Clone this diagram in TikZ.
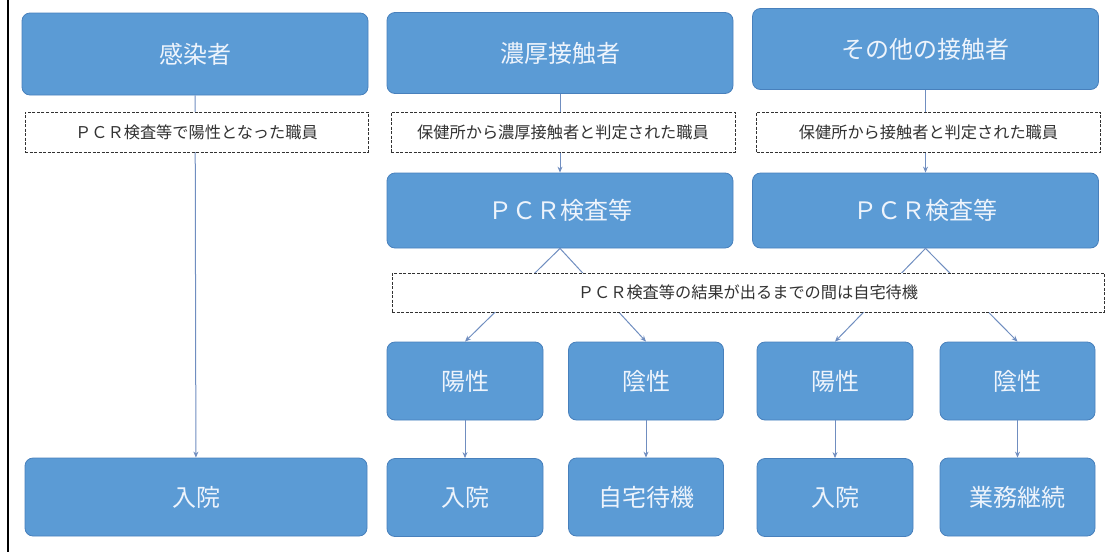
\documentclass[tikz,border=0pt]{standalone}
\usepackage{fontspec}
\setmainfont{Noto Sans CJK JP}
\usetikzlibrary{arrows.meta}
\definecolor{boxblue}{RGB}{91,155,213}
\definecolor{boxline}{RGB}{72,128,188}
\definecolor{flowline}{RGB}{112,142,192}
\definecolor{notegray}{RGB}{50,50,50}
\definecolor{boxtext}{RGB}{238,244,252}

\begin{document}
\begin{tikzpicture}[x=1pt, y=-1pt,
    boxsize/.style 2 args={minimum width=#1pt, minimum height=#2pt},
    bluebox/.style={fill=boxblue, draw=boxline, line width=0.8pt, rounded corners=8pt,
        text=boxtext, inner sep=0pt, font=\fontsize{24}{26}\selectfont},
    notebox/.style={fill=white, draw=notegray, dash pattern=on 3pt off 1.5pt, line width=0.8pt,
        text=notegray, inner sep=0pt, font=\fontsize{16.2}{18}\selectfont},
    flow/.style={draw=flowline, line width=1pt, -{Stealth[length=6pt, width=5pt]}}]
    \useasboundingbox (0, 0) rectangle (1113, 552);
    \draw [line width=2pt] (8, 0) -- (8, 552);

    \node [bluebox, boxsize={346}{82}] (infected) at (195, 54) {感染者};
    \node [bluebox, boxsize={342}{78}] (hosp) at (196, 497) {入院};
    \draw [flow] (infected) -- (hosp);
    \node [notebox, boxsize={343}{40}] (infnote) at (196.5, 132) {ＰＣＲ検査等で陽性となった職員};

    \foreach \cx/\ty/\lx/\rx/\nm/\hd/\nt/\lst in {
        560/53/465/646/a/濃厚接触者/保健所から濃厚接触者と判定された職員/自宅待機,
        925.5/49/835/1017.5/b/その他の接触者/保健所から接触者と判定された職員/業務継続} {
        \node [bluebox, boxsize={346}{81}] (top\nm) at (\cx, \ty) {\hd};
        \node [bluebox, boxsize={346}{75}] (pcr\nm) at (\cx, 210.5) {ＰＣＲ検査等};
        \node [bluebox, boxsize={156}{78}] (pos\nm) at (\lx, 381) {陽性};
        \node [bluebox, boxsize={155}{78}] (neg\nm) at (\rx, 381) {陰性};
        \node [bluebox, boxsize={156}{78}] (hosp\nm) at (\lx, 497.5) {入院};
        \node [bluebox, boxsize={155}{78}] (last\nm) at (\rx, 497) {\lst};
        \draw [flow] (top\nm) -- (pcr\nm);
        \draw [flow] (pcr\nm.south) -- (pos\nm.north);
        \draw [flow] (pcr\nm.south) -- (neg\nm.north);
        \draw [flow] (pos\nm) -- (hosp\nm);
        \draw [flow] (neg\nm) -- (last\nm);
        \node [notebox, boxsize={344}{40}] (note\nm) at (\cx + 3, 132) {\nt};
    }

    \node [notebox, boxsize={712}{39}] (waitnote) at (748, 292.5) {ＰＣＲ検査等の結果が出るまでの間は自宅待機};
\end{tikzpicture}
\end{document}
